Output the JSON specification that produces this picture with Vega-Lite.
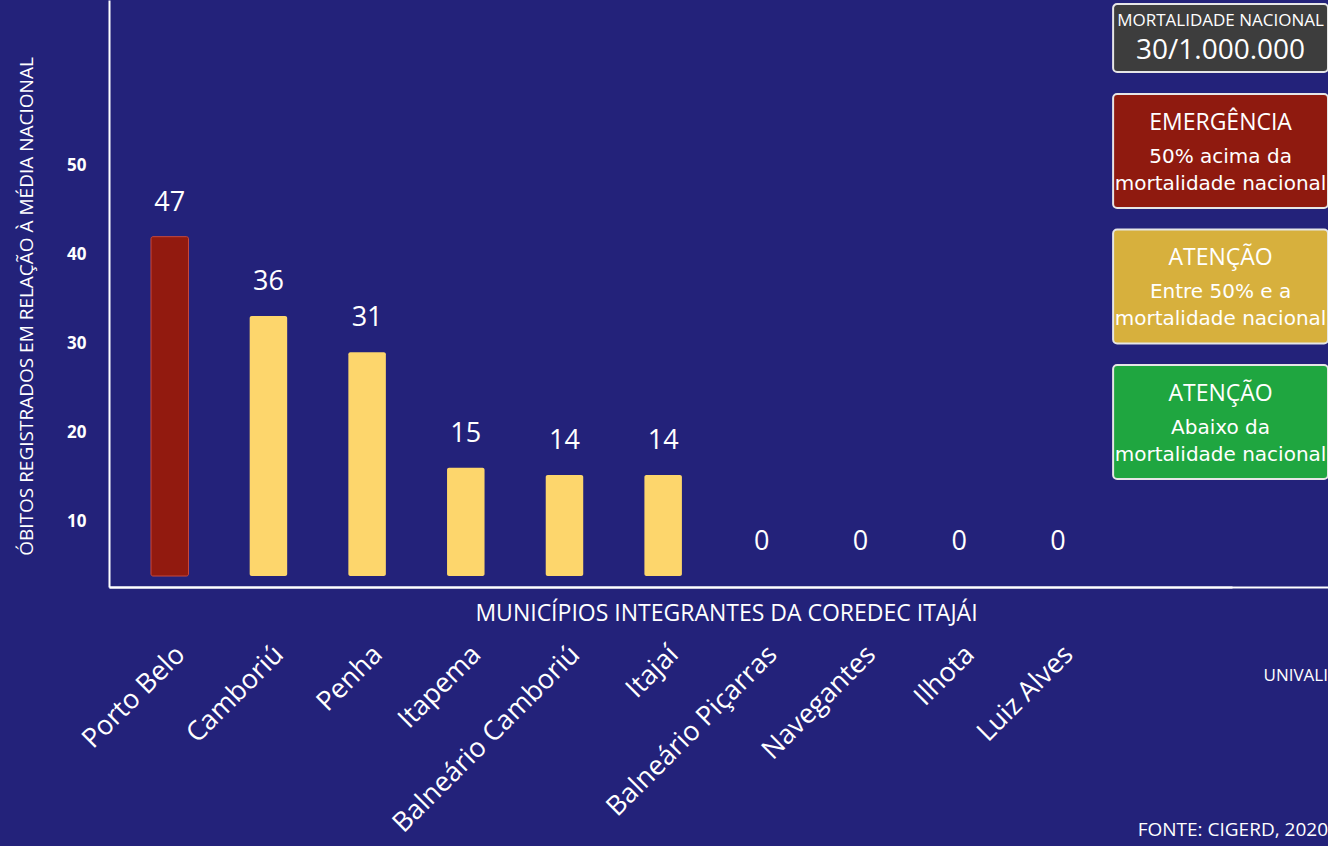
{
  "$schema": "https://vega.github.io/schema/vega-lite/v6.json",
  "width": 1219,
  "height": 587,
  "autosize": {"type": "none"},
  "padding": {"left": 109, "top": 0, "right": 0, "bottom": 259},
  "background": "#23227a",
  "config": {"view": {"stroke": null}, "font": "Open Sans"},
  "title": {
    "text": "UNIVALI",
    "subtitle": "FONTE: CIGERD, 2020",
    "orient": "bottom",
    "anchor": "end",
    "frame": "group",
    "offset": -169,
    "color": "white",
    "font": "Open Sans",
    "fontSize": 17,
    "fontWeight": "normal",
    "subtitleColor": "white",
    "subtitleFont": "Open Sans",
    "subtitleFontSize": 19,
    "subtitlePadding": 136
  },
  "datasets": {
    "municipios": [
      {"municipio": "Porto Belo", "obitos": 47, "nivel": "emergência"},
      {"municipio": "Camboriú", "obitos": 36, "nivel": "atenção"},
      {"municipio": "Penha", "obitos": 31, "nivel": "atenção"},
      {"municipio": "Itapema", "obitos": 15, "nivel": "atenção"},
      {"municipio": "Balneário Camboriú", "obitos": 14, "nivel": "atenção"},
      {"municipio": "Itajaí", "obitos": 14, "nivel": "atenção"},
      {"municipio": "Balneário Piçarras", "obitos": 0, "nivel": "atenção"},
      {"municipio": "Navegantes", "obitos": 0, "nivel": "atenção"},
      {"municipio": "Ilhota", "obitos": 0, "nivel": "atenção"},
      {"municipio": "Luiz Alves", "obitos": 0, "nivel": "atenção"}
    ],
    "mortalidade": [
      {"painel": "legenda", "caixa": "nacional", "titulo": "MORTALIDADE NACIONAL", "valor": "30/1.000.000"}
    ],
    "niveis": [
      {"painel": "legenda", "nivel": "emergência", "titulo": "EMERGÊNCIA", "linha1": "50% acima da", "linha2": "mortalidade nacional"},
      {"painel": "legenda", "nivel": "atenção", "titulo": "ATENÇÃO", "linha1": "Entre 50% e a", "linha2": "mortalidade nacional"},
      {"painel": "legenda", "nivel": "abaixo", "titulo": "ATENÇÃO", "linha1": "Abaixo da", "linha2": "mortalidade nacional"}
    ]
  },
  "layer": [
    {
      "data": {"name": "municipios"},
      "layer": [
        {
          "mark": {"type": "bar", "cornerRadius": 2, "strokeWidth": 1},
          "encoding": {
            "x": {
              "field": "municipio",
              "type": "nominal",
              "sort": null,
              "scale": {"paddingInner": 0.62, "paddingOuter": 1, "align": 0.2128, "rangeMax": 1123},
              "axis": {
                "title": "MUNICÍPIOS INTEGRANTES DA COREDEC ITAJÁI",
                "titleColor": "white",
                "titleFont": "Open Sans",
                "titleFontSize": 23,
                "titleFontWeight": "normal",
                "titleX": 617,
                "titleY": 26,
                "titleBaseline": "middle",
                "titleAlign": "center",
                "labelAngle": -45,
                "labelAlign": "right",
                "labelBaseline": "middle",
                "labelPadding": 63,
                "labelOffset": 11,
                "labelColor": "white",
                "labelFont": "Open Sans",
                "labelFontSize": 27,
                "labelOverlap": false,
                "labelLimit": 400,
                "ticks": false,
                "grid": false,
                "domainColor": "white",
                "domainWidth": 2
              }
            },
            "y": {
              "field": "obitos",
              "type": "quantitative",
              "scale": {"domain": [-1.52, 79.78], "nice": false, "zero": false},
              "axis": null
            },
            "y2": {"datum": 0},
            "color": {
              "field": "nivel",
              "type": "nominal",
              "scale": {"domain": ["emergência", "atenção"], "range": ["#921a0f", "#fdd66c"]},
              "legend": null
            },
            "stroke": {
              "field": "nivel",
              "type": "nominal",
              "scale": {"domain": ["emergência", "atenção"], "range": ["#c9493c", "transparent"]},
              "legend": null
            }
          }
        },
        {
          "mark": {"type": "text", "dy": -34, "fontSize": 27, "color": "white", "font": "Open Sans", "baseline": "middle"},
          "encoding": {
            "x": {"field": "municipio", "type": "nominal", "sort": null},
            "y": {"field": "obitos", "type": "quantitative"},
            "text": {"field": "obitos", "type": "quantitative"}
          }
        }
      ]
    },
    {
      "data": {"name": "municipios"},
      "mark": {"type": "point", "opacity": 0},
      "encoding": {
        "y": {
          "field": "obitos",
          "type": "quantitative",
          "scale": {"domain": [2.66, 68.54], "nice": false, "zero": false},
          "axis": {
            "orient": "left",
            "values": [10, 20, 30, 40, 50],
            "title": "ÓBITOS REGISTRADOS EM RELAÇÃO À MÉDIA NACIONAL",
            "titleColor": "white",
            "titleFont": "Open Sans",
            "titleFontSize": 19,
            "titleFontWeight": "normal",
            "titleX": -77,
            "titleY": 306,
            "titleAngle": -90,
            "titleAlign": "center",
            "titleBaseline": "alphabetic",
            "labelColor": "white",
            "labelFont": "Open Sans",
            "labelFontSize": 17,
            "labelFontWeight": "bold",
            "labelPadding": 23,
            "ticks": false,
            "grid": false,
            "domainColor": "white",
            "domainWidth": 2
          }
        }
      }
    },
    {
      "data": {"name": "mortalidade"},
      "encoding": {
        "x": {
          "field": "painel",
          "type": "nominal",
          "scale": {"paddingInner": 0.572, "paddingOuter": 1, "align": 1},
          "axis": {"orient": "bottom", "labels": false, "ticks": false, "title": null, "grid": false, "domainColor": "white", "domainWidth": 2}
        },
        "y": {"field": "caixa", "type": "nominal", "scale": {"paddingInner": 0.738, "paddingOuter": 1, "align": 0.0077}, "axis": null}
      },
      "layer": [
        {"mark": {"type": "rect", "fill": "#3d3d3d", "stroke": "#e6e6e6", "strokeWidth": 2, "cornerRadius": 4}},
        {"mark": {"type": "text", "dy": -17, "fontSize": 17, "color": "white", "font": "Open Sans", "baseline": "middle"}, "encoding": {"text": {"field": "titulo"}}},
        {"mark": {"type": "text", "dy": 13, "fontSize": 28, "color": "white", "font": "Open Sans", "baseline": "middle"}, "encoding": {"text": {"field": "valor"}}}
      ]
    },
    {
      "data": {"name": "niveis"},
      "encoding": {
        "x": {"field": "painel", "type": "nominal", "scale": {"paddingInner": 0.572, "paddingOuter": 1, "align": 1}, "axis": null},
        "y": {"field": "nivel", "type": "nominal", "sort": null, "scale": {"paddingInner": 0.1587, "paddingOuter": 0.7455, "align": 0.4653}, "axis": null}
      },
      "layer": [
        {
          "mark": {"type": "rect", "stroke": "#e6e6e6", "strokeWidth": 2, "cornerRadius": 4},
          "encoding": {
            "fill": {
              "field": "nivel",
              "type": "nominal",
              "scale": {"domain": ["emergência", "atenção", "abaixo"], "range": ["#8f1a0f", "#d7b03d", "#1fa640"]},
              "legend": null
            }
          }
        },
        {"mark": {"type": "text", "dy": -28, "fontSize": 23, "color": "white", "font": "Open Sans", "baseline": "middle"}, "encoding": {"text": {"field": "titulo"}}},
        {"mark": {"type": "text", "dy": 6, "fontSize": 20, "color": "white", "font": "DejaVu Sans", "baseline": "middle"}, "encoding": {"text": {"field": "linha1"}}},
        {"mark": {"type": "text", "dy": 33, "fontSize": 20, "color": "white", "font": "DejaVu Sans", "baseline": "middle"}, "encoding": {"text": {"field": "linha2"}}}
      ]
    }
  ],
  "resolve": {"scale": {"x": "independent", "y": "independent", "color": "independent", "stroke": "independent", "fill": "independent"}}
}
